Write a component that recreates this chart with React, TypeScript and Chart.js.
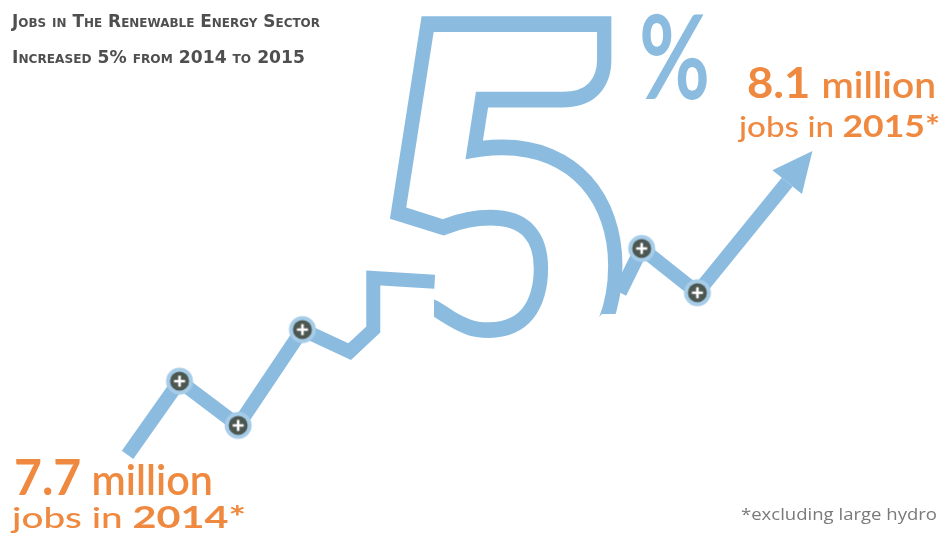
import React, { useEffect, useRef } from 'react';
import { Chart, registerables } from 'chart.js';

Chart.register(...registerables);

const W = 945;
const H = 536;

// Timeline progress (0–100 across the graphic) and renewable-energy jobs (millions)
const progress = [13.5, 19.0, 25.2, 32.0, 37.0, 39.5, 39.5, 46.0, 52.0, 65.6, 67.9, 73.8, 83.3];
const jobsMillions = [7.70, 7.80, 7.74, 7.87, 7.84, 7.87, 7.94, 7.935, null, 7.92, 7.98, 7.92, 8.07];
const isMarker = [false, true, true, true, false, false, false, false, false, false, true, true, false];

const titleLines = ['Jobs in The Renewable Energy Sector', 'Increased 5% from 2014 to 2015'];
const startValue = '7.7';
const endValue = '8.1';
const unitWord = ' million';
const startYear = '2014';
const endYear = '2015';
const bigPercent = ['5', '%'];
const footnote = '*excluding large hydro';

const BLUE = '#8bbce0';
const ORANGE = '#ef8940';

type Run = { text: string; font: string };

function drawRuns(ctx: CanvasRenderingContext2D, runs: Run[], x: number, baseline: number, targetWidth: number, color: string, smallCaps = false) {
  ctx.save();
  const anyCtx = ctx as any;
  const setFont = (f: string) => {
    ctx.font = f;
    if (smallCaps) anyCtx.fontVariantCaps = 'small-caps';
  };
  let total = 0;
  const widths = runs.map((r) => {
    setFont(r.font);
    const w = ctx.measureText(r.text).width;
    total += w;
    return w;
  });
  const sx = targetWidth / total;
  ctx.translate(x, baseline);
  ctx.scale(sx, 1);
  ctx.fillStyle = color;
  ctx.textBaseline = 'alphabetic';
  ctx.textAlign = 'left';
  let cx = 0;
  runs.forEach((r, i) => {
    setFont(r.font);
    ctx.fillText(r.text, cx, 0);
    cx += widths[i];
  });
  ctx.restore();
}

type Box = { l: number; r: number; t: number; b: number };

function glyphTransform(ctx: CanvasRenderingContext2D, ch: string, box: Box) {
  const m = ctx.measureText(ch);
  const gw = m.actualBoundingBoxLeft + m.actualBoundingBoxRight;
  const gh = m.actualBoundingBoxAscent + m.actualBoundingBoxDescent;
  const sx = (box.r - box.l) / gw;
  const sy = (box.b - box.t) / gh;
  ctx.translate(box.l, box.t);
  ctx.scale(sx, sy);
  return { x: m.actualBoundingBoxLeft, y: m.actualBoundingBoxAscent, s: Math.sqrt(sx * sy) };
}

function fillGlyph(ctx: CanvasRenderingContext2D, ch: string, font: string, box: Box, color: string) {
  ctx.save();
  ctx.font = font;
  ctx.textAlign = 'left';
  ctx.textBaseline = 'alphabetic';
  const t = glyphTransform(ctx, ch, box);
  ctx.fillStyle = color;
  ctx.fillText(ch, t.x, t.y);
  ctx.restore();
}

// Outline of a glyph grown outward by `grow` pixels, drawn as a band `band` pixels wide
function outlineGlyph(ch: string, font: string, box: Box, grow: number, band: number, color: string): HTMLCanvasElement {
  const oc = document.createElement('canvas');
  oc.width = W;
  oc.height = H;
  const g = oc.getContext('2d')!;
  g.font = font;
  g.textAlign = 'left';
  g.textBaseline = 'alphabetic';
  const t = glyphTransform(g, ch, { l: box.l + grow, r: box.r - grow, t: box.t + grow, b: box.b - grow });
  g.lineJoin = 'miter';
  g.miterLimit = 10;
  g.fillStyle = color;
  g.strokeStyle = color;
  g.lineWidth = (2 * grow + band) / t.s;
  g.strokeText(ch, t.x, t.y);
  g.fillText(ch, t.x, t.y);
  g.globalCompositeOperation = 'destination-out';
  g.lineWidth = Math.max(0.1, 2 * grow - band) / t.s;
  g.strokeText(ch, t.x, t.y);
  g.fillText(ch, t.x, t.y);
  return oc;
}

function makeMarker(): HTMLCanvasElement {
  const c = document.createElement('canvas');
  c.width = 30;
  c.height = 30;
  const g = c.getContext('2d')!;
  g.fillStyle = '#a6cce8';
  g.beginPath();
  g.arc(15, 15, 13.5, 0, Math.PI * 2);
  g.fill();
  g.fillStyle = '#4d5752';
  g.beginPath();
  g.arc(15, 15, 9.5, 0, Math.PI * 2);
  g.fill();
  g.strokeStyle = '#ffffff';
  g.lineWidth = 2.6;
  g.beginPath();
  g.moveTo(9.5, 15);
  g.lineTo(20.5, 15);
  g.moveTo(15, 9.5);
  g.lineTo(15, 20.5);
  g.stroke();
  return c;
}

const decorPlugin = {
  id: 'decor',
  beforeDraw(chart: any) {
    const ctx: CanvasRenderingContext2D = chart.ctx;
    ctx.save();
    ctx.fillStyle = '#ffffff';
    ctx.fillRect(0, 0, chart.width, chart.height);
    ctx.restore();
  },
  beforeDatasetsDraw(chart: any) {
    const ctx: CanvasRenderingContext2D = chart.ctx;
    // outlined big "5" (open at the bottom where the line passes through)
    const five = outlineGlyph(bigPercent[0], '700 200px Lato', { l: 380, r: 616, t: 26, b: 402 }, 10, 15, BLUE);
    ctx.save();
    ctx.beginPath();
    ctx.rect(0, 0, W, H);
    ctx.moveTo(330, 262);
    ctx.lineTo(330, 536);
    ctx.lineTo(700, 536);
    ctx.lineTo(700, 314);
    ctx.lineTo(602, 314);
    ctx.lineTo(550, 366);
    ctx.lineTo(434, 366);
    ctx.lineTo(434, 262);
    ctx.closePath();
    ctx.clip('evenodd');
    ctx.drawImage(five, 0, 0);
    ctx.restore();
    fillGlyph(ctx, bigPercent[1], '700 200px Lato', { l: 642, r: 707, t: 13, b: 100 }, BLUE);
  },
  afterDatasetsDraw(chart: any) {
    const ctx: CanvasRenderingContext2D = chart.ctx;
    const meta = chart.getDatasetMeta(0);
    const pts = meta.data;
    const last = pts[pts.length - 1];
    const prev = pts[pts.length - 2];
    const dx = last.x - prev.x;
    const dy = last.y - prev.y;
    const len = Math.hypot(dx, dy);
    const ux = dx / len;
    const uy = dy / len;
    const head = 40;
    const half = 19;
    ctx.save();
    ctx.fillStyle = BLUE;
    ctx.beginPath();
    ctx.moveTo(last.x + ux * head, last.y + uy * head);
    ctx.lineTo(last.x - uy * half, last.y + ux * half);
    ctx.lineTo(last.x + uy * half, last.y - ux * half);
    ctx.closePath();
    ctx.fill();
    ctx.restore();

    // Title (small caps)
    drawRuns(ctx, [{ text: titleLines[0], font: 'small-caps bold 17px "DejaVu Sans"' }], 12, 27, 308, '#4f4f4f', true);
    drawRuns(ctx, [{ text: titleLines[1], font: 'small-caps bold 17px "DejaVu Sans"' }], 12, 63, 293, '#4f4f4f', true);

    // 2014 label
    drawRuns(ctx, [
      { text: startValue, font: 'bold 49px Lato' },
      { text: unitWord, font: '600 42px Lato' },
    ], 14, 495, 199, ORANGE);
    drawRuns(ctx, [
      { text: 'jobs in ', font: '500 28px Lato' },
      { text: startYear + '*', font: 'bold 30px Lato' },
    ], 12, 528, 234, ORANGE);

    // 2015 label
    drawRuns(ctx, [
      { text: endValue + ' ', font: 'bold 42px Lato' },
      { text: unitWord.trim(), font: '600 36px Lato' },
    ], 747, 98, 189, ORANGE);
    drawRuns(ctx, [
      { text: 'jobs in ', font: '500 28px Lato' },
      { text: endYear + '*', font: 'bold 30px Lato' },
    ], 739, 137, 201, ORANGE);

    drawRuns(ctx, [{ text: footnote, font: '17px "Open Sans"' }], 741, 520, 196, '#7a7a7a');
  },
};

export default function App() {
  const ref = useRef<HTMLCanvasElement | null>(null);

  useEffect(() => {
    if (!ref.current) return;
    const marker = makeMarker();
    const data = progress.map((x, i) => ({ x, y: jobsMillions[i] }));
    const chart = new Chart(ref.current, {
      type: 'line',
      data: {
        datasets: [
          {
            label: 'Jobs (millions)',
            data: data as any,
            borderColor: BLUE,
            borderWidth: 14,
            borderJoinStyle: 'miter',
            borderCapStyle: 'butt',
            tension: 0,
            fill: false,
            spanGaps: false,
            pointRadius: isMarker.map((m) => (m ? 13 : 0)),
            pointHoverRadius: isMarker.map((m) => (m ? 13 : 0)),
            pointStyle: isMarker.map((m) => (m ? marker : 'circle')) as any,
          },
        ],
      },
      options: {
        animation: false,
        responsive: false,
        devicePixelRatio: 1,
        events: [],
        layout: { padding: 0 },
        plugins: { legend: { display: false }, tooltip: { enabled: false }, title: { display: false } },
        scales: {
          x: { type: 'linear', min: 0, max: 100, display: false },
          y: { type: 'linear', min: 7.59, max: 8.317, display: false },
        },
      },
      plugins: [decorPlugin],
    });
    return () => chart.destroy();
  }, []);

  return (
    <div style={{ position: 'fixed', left: 0, top: 0, width: W, height: H, background: '#fff' }}>
      <canvas ref={ref} width={W} height={H} style={{ width: W, height: H, display: 'block' }} />
    </div>
  );
}
